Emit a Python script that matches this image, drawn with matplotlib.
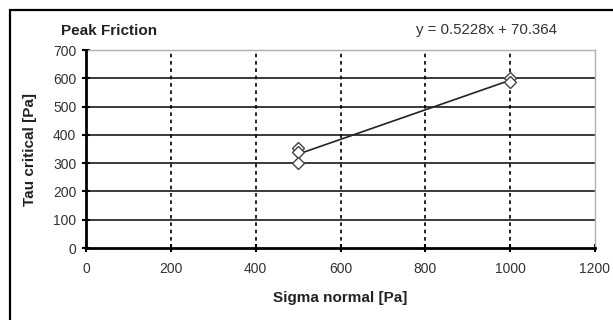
import matplotlib
matplotlib.use("Agg")
import matplotlib.pyplot as plt
from matplotlib.patches import Rectangle

plt.rcParams['font.family'] = ['Liberation Sans', 'DejaVu Sans']

# Shear test results: normal stress vs. critical shear stress
sigma_normal = [500, 500, 500, 1000, 1000]
tau_critical = [355, 341, 300, 601, 586]

# Linear trendline coefficients
trend_slope = 0.5228
trend_intercept = 70.364
trend_x = [500, 1000]

x_ticks = [0, 200, 400, 600, 800, 1000, 1200]
y_ticks = [0, 100, 200, 300, 400, 500, 600, 700]

W, H = 613, 320
fig = plt.figure(figsize=(W / 100, H / 100), dpi=100)
fig.patch.set_facecolor('white')

# outer chart frame
fig.patches.append(Rectangle((10 / W, -0.2), 2.0, 1.2 - 10 / H,
                             transform=fig.transFigure, fill=False,
                             edgecolor='black', lw=1.6))

ax = fig.add_axes([86 / W, 1 - 248 / H, (595 - 86) / W, (248 - 50) / H])
ax.set_xlim(0, 1200)
ax.set_ylim(0, 700)
ax.set_xticks(x_ticks)
ax.set_yticks(y_ticks)

# gridlines
for yv in y_ticks[1:-1]:
    ax.axhline(yv, color='#3a3a3a', lw=1.4, zorder=1)
for xv in x_ticks[1:-1]:
    ax.axvline(xv, color='black', lw=1.2, ls=(0, (2.2, 2.2)), zorder=1)

# trendline
trend_y = [trend_slope * x + trend_intercept for x in trend_x]
ax.plot(trend_x, trend_y, color='#222222', lw=1.2, zorder=3)

# data points
ax.plot(sigma_normal, tau_critical, ls='none', marker='D', ms=6,
        mfc='white', mec='#444444', mew=1.0, zorder=4)

for s in ['top', 'right']:
    ax.spines[s].set_color('#b0b0b0')
    ax.spines[s].set_linewidth(1.0)
for s in ['left', 'bottom']:
    ax.spines[s].set_color('black')
    ax.spines[s].set_linewidth(2.0)
    ax.spines[s].set_zorder(5)

ax.tick_params(axis='both', direction='inout', length=6, width=1.5,
               color='black', labelsize=10, labelcolor='#333333')
ax.tick_params(axis='x', pad=7)
ax.tick_params(axis='y', pad=4)

fig.text(340 / W, 1 - 298 / H, 'Sigma normal [Pa]', fontsize=11,
         fontweight='bold', color='#222222', ha='center', va='center')
fig.text(30 / W, 1 - 150 / H, 'Tau critical [Pa]', fontsize=11,
         fontweight='bold', color='#222222', ha='center', va='center',
         rotation=90)

fig.text(61 / W, 1 - 31 / H, 'Peak Friction', fontsize=11, fontweight='bold',
         color='#222222', va='center', ha='left')
fig.text(557 / W, 1 - 30 / H,
         f'y = {trend_slope}x + {trend_intercept}', fontsize=10.8,
         color='#333333', va='center', ha='right')

fig.savefig('out.png', dpi=100, facecolor='white')
